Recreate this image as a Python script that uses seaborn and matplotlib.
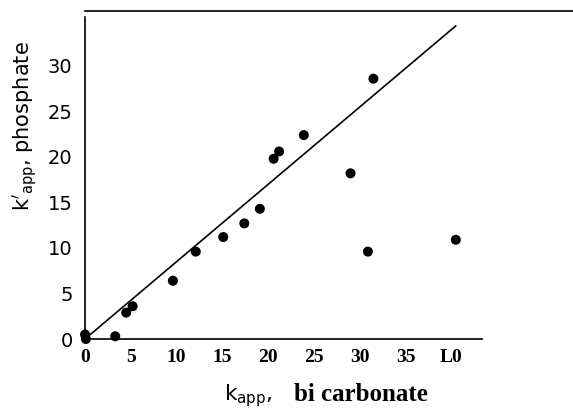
import matplotlib
matplotlib.use("Agg")
import matplotlib.pyplot as plt
import seaborn as sns
import pandas as pd
from matplotlib import font_manager as fm

# ---- data ----
k_bicarbonate = [0.0, 0.1, 3.3, 4.5, 5.2, 9.6, 12.1, 15.1, 17.4, 19.1, 20.6, 21.2, 23.9, 29.0, 30.9, 31.5, 40.5]
k_phosphate   = [0.5, 0.0, 0.3, 2.9, 3.6, 6.4, 9.6, 11.2, 12.7, 14.3, 19.8, 20.6, 22.4, 18.2, 9.6, 28.6, 10.9]
fit_x = [0.0, 40.5]
fit_y = [0.0, 34.4]
x_ticks = [0, 5, 10, 15, 20, 25, 30, 35, 40]
x_tick_labels = ["0", "5", "10", "15", "20", "25", "30", "35", "L0"]
y_ticks = [0, 5, 10, 15, 20, 25, 30]
y_tick_labels = ["0", "5", "10", "15", "20", "25", "30"]

sns.set_style("white")
names = {f.name for f in fm.fontManager.ttflist}
sans = "Liberation Sans Narrow" if "Liberation Sans Narrow" in names else "DejaVu Sans"
ytick_size = 16 if sans == "Liberation Sans Narrow" else 14
plt.rcParams["font.family"] = ["DejaVu Sans"]
plt.rcParams["mathtext.fontset"] = "dejavusans"

df = pd.DataFrame({"bicarbonate": k_bicarbonate, "phosphate": k_phosphate})
fit = pd.DataFrame({"x": fit_x, "y": fit_y})

W, H = 573, 415
fig = plt.figure(figsize=(W / 100, H / 100), dpi=100)
ax = fig.add_axes([85 / W, (H - 339) / H, (W - 85) / W, (339 - 11.3) / H])

sns.lineplot(data=fit, x="x", y="y", ax=ax, color="black", linewidth=1.2)
sns.scatterplot(data=df, x="bicarbonate", y="phosphate", ax=ax, color="black",
                s=52, edgecolor="none", zorder=3, clip_on=False)

ax.set_xlim(0, 53.3)
ax.set_ylim(0, 36)
for side in ["top", "left", "bottom"]:
    ax.spines[side].set_visible(True)
    ax.spines[side].set_color("black")
    ax.spines[side].set_linewidth(1.2)
ax.spines["right"].set_visible(False)
ax.spines["left"].set_bounds(0, 35.4)
ax.spines["bottom"].set_bounds(0, 43.4)

ax.set_xticks(x_ticks)
ax.set_xticklabels(x_tick_labels, fontfamily="Liberation Serif", fontweight="bold", fontsize=14)
ax.set_yticks(y_ticks)
ax.set_yticklabels(y_tick_labels, fontfamily=sans, fontsize=ytick_size)
ax.tick_params(axis="both", direction="in", length=6, width=1, color="black", labelcolor="black")
ax.tick_params(axis="x", pad=7)
ax.tick_params(axis="y", pad=9)
ax.set_xlabel("")
ax.set_ylabel("")
ax.grid(False)

fig.text(25 / W, 1 - 126 / H, r"$\mathrm{k}'_{\mathrm{app}}$, phosphate", rotation=90,
         ha="center", va="center", fontsize=15, color="black")
fig.text(272 / W, 1 - 400 / H, r"$\mathrm{k}_{\mathrm{app}}$,", ha="right", va="baseline",
         fontsize=15.5, color="black")
fig.text(294 / W, 1 - 401 / H, "bi carbonate", ha="left", va="baseline",
         fontfamily="Liberation Serif", fontweight="bold", fontsize=18, color="black")

fig.savefig("out.png", dpi=100, facecolor="white")
